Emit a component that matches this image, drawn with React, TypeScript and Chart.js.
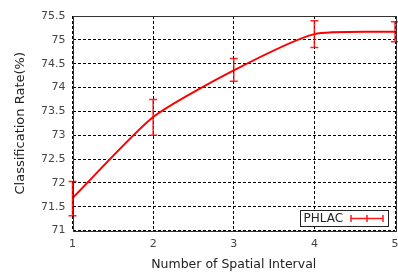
import React, { useEffect, useRef } from "react";
import { Chart, registerables } from "chart.js";

Chart.register(...registerables);

const intervals = [1, 2, 3, 4, 5];
const rates = [71.68, 73.38, 74.36, 75.12, 75.17];
const errLow = [71.31, 73.0, 74.13, 74.84, 74.96];
const errHigh = [72.03, 73.75, 74.61, 75.4, 75.38];
const seriesName = "PHLAC";
const xTitle = "Number of Spatial Interval";
const yTitle = "Classification Rate(%)";

const FONT = "'DejaVu Sans', sans-serif";

const errorBarPlugin = {
  id: "errorBars",
  afterDatasetsDraw(chart: any) {
    const { ctx, scales, chartArea } = chart;
    const xs = scales.x;
    const ys = scales.y;
    ctx.save();
    ctx.strokeStyle = "rgba(255,0,0,0.85)";
    ctx.lineWidth = 1.5;
    intervals.forEach((v, i) => {
      const px = xs.getPixelForValue(v);
      const lo = ys.getPixelForValue(errLow[i]);
      const hi = ys.getPixelForValue(errHigh[i]);
      ctx.beginPath();
      ctx.moveTo(px, lo);
      ctx.lineTo(px, hi);
      ctx.moveTo(px - 4, lo);
      ctx.lineTo(px + 4, lo);
      ctx.moveTo(px - 4, hi);
      ctx.lineTo(px + 4, hi);
      ctx.stroke();
    });
    // frame
    ctx.strokeStyle = "#333";
    ctx.lineWidth = 1;
    ctx.strokeRect(
      Math.round(chartArea.left) + 0.5,
      Math.round(chartArea.top) + 0.5,
      Math.round(chartArea.right - chartArea.left),
      Math.round(chartArea.bottom - chartArea.top)
    );
    // legend
    const bx = 300.5, by = 210.5, bw = 88, bh = 16;
    ctx.fillStyle = "#fff";
    ctx.fillRect(bx, by, bw, bh);
    ctx.strokeStyle = "#222";
    ctx.strokeRect(bx, by, bw, bh);
    ctx.fillStyle = "#222";
    ctx.font = `12px ${FONT}`;
    ctx.textBaseline = "middle";
    ctx.textAlign = "left";
    ctx.fillText(seriesName, bx + 3, by + bh / 2 + 0.5);
    const lx0 = 351, lx1 = 383, ly = by + bh / 2;
    ctx.strokeStyle = "rgba(255,0,0,0.9)";
    ctx.lineWidth = 1.5;
    ctx.beginPath();
    ctx.moveTo(lx0, ly);
    ctx.lineTo(lx1, ly);
    [lx0, (lx0 + lx1) / 2, lx1].forEach((x) => {
      ctx.moveTo(x, ly - 3.5);
      ctx.lineTo(x, ly + 3.5);
    });
    ctx.stroke();
    ctx.restore();
  },
};

export default function App() {
  const ref = useRef<HTMLCanvasElement>(null);
  useEffect(() => {
    document.body.style.margin = "0";
    const chart = new Chart(ref.current!, {
      type: "line",
      data: {
        datasets: [
          {
            label: seriesName,
            data: intervals.map((x, i) => ({ x, y: rates[i] })),
            borderColor: "#ff0000",
            borderWidth: 2,
            pointRadius: 0,
            fill: false,
            tension: 0.2,
          },
        ],
      },
      options: {
        animation: false,
        responsive: false,
        maintainAspectRatio: false,
        layout: { padding: { top: 16, right: 3, left: 6, bottom: 0 } },
        plugins: { legend: { display: false }, tooltip: { enabled: false } },
        scales: {
          x: {
            type: "linear",
            min: 1,
            max: 5,
            ticks: { stepSize: 1, color: "#444", font: { family: FONT, size: 11 }, padding: 7 },
            grid: { color: "#000", drawTicks: false },
            border: { display: false, dash: [3, 2] },
            title: { display: true, text: xTitle, color: "#222", font: { family: FONT, size: 12.5 }, padding: { top: 6 } },
            afterFit: (s: any) => { s.height = 45.5; s.paddingRight = 0; s.paddingLeft = 0; },
          },
          y: {
            min: 71,
            max: 75.5,
            ticks: {
              stepSize: 0.5,
              color: "#444",
              font: { family: FONT, size: 11 },
              padding: 7,
              callback: (v: any) => String(Math.round(Number(v) * 10) / 10),
            },
            grid: { color: "#000", drawTicks: false },
            border: { display: false, dash: [3, 2] },
            title: { display: true, text: yTitle, color: "#222", font: { family: FONT, size: 13 }, padding: { top: 7, bottom: 4 } },
            afterFit: (s: any) => { s.width = 66.5; },
          },
        },
      },
      plugins: [errorBarPlugin],
    } as any);
    return () => chart.destroy();
  }, []);
  return (
    <div style={{ position: "absolute", left: 0, top: 0, width: 398, height: 276 }}>
      <canvas ref={ref} width={398} height={276} style={{ width: 398, height: 276 }} />
    </div>
  );
}
